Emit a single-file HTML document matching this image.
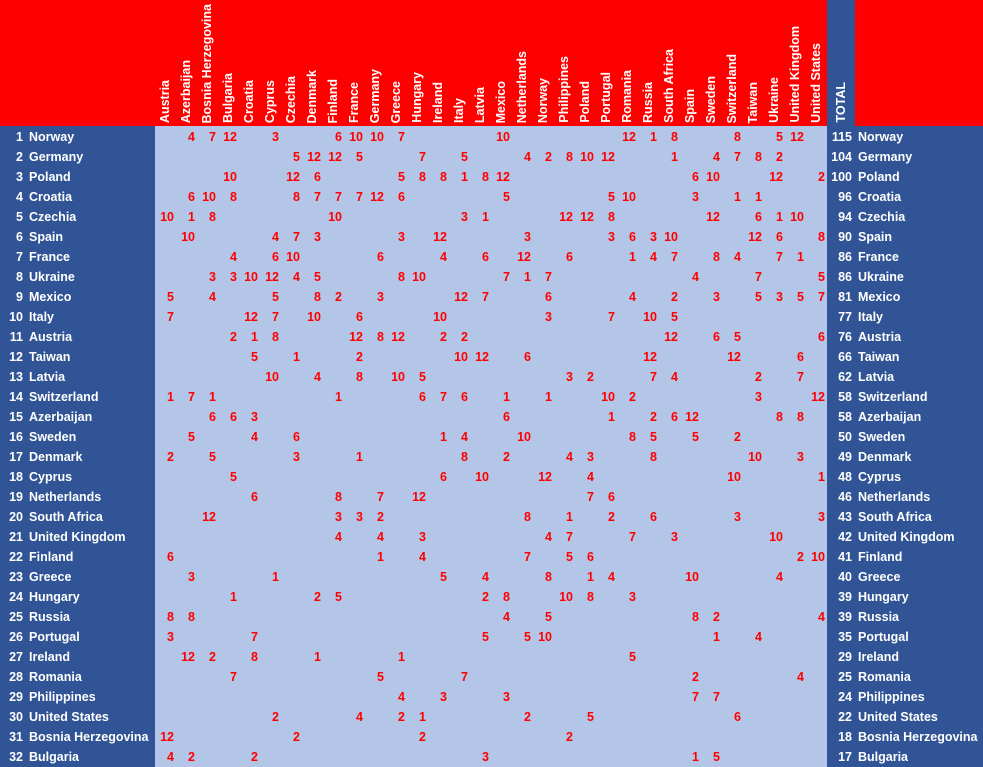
<!DOCTYPE html>
<html><head><meta charset="utf-8"><style>
*{margin:0;padding:0}
body{width:983px;height:767px;position:relative;overflow:hidden;background:#305496;font-family:"Liberation Sans",sans-serif;font-weight:bold;font-size:12.5px}
#hdr{position:absolute;left:0;top:0;width:983px;height:126px;background:#FF0000}
#grid{position:absolute;left:155px;top:126px;width:672px;height:641px;background:#B4C6E7}
#totc{position:absolute;left:827px;top:0;width:28px;height:126px;background:#305496}
.h{position:absolute;bottom:3px;writing-mode:vertical-rl;transform:rotate(180deg);color:#fff;white-space:nowrap;line-height:13px}
.r{position:absolute;left:0;width:983px;height:20px;line-height:20px}
.r span{position:absolute;color:#fff}
.n{left:0;width:23px;text-align:right}
.t{left:29px}
.tt{left:820px;width:32px;text-align:right}
.t2{left:858px}
.r b{position:absolute;width:19px;text-align:right;color:#FF0000}
.c0{left:155px}.c1{left:176px}.c2{left:197px}.c3{left:218px}.c4{left:239px}.c5{left:260px}.c6{left:281px}.c7{left:302px}.c8{left:323px}.c9{left:344px}.c10{left:365px}.c11{left:386px}.c12{left:407px}.c13{left:428px}.c14{left:449px}.c15{left:470px}.c16{left:491px}.c17{left:512px}.c18{left:533px}.c19{left:554px}.c20{left:575px}.c21{left:596px}.c22{left:617px}.c23{left:638px}.c24{left:659px}.c25{left:680px}.c26{left:701px}.c27{left:722px}.c28{left:743px}.c29{left:764px}.c30{left:785px}.c31{left:806px}
</style></head><body>
<div id="hdr">
<div id="totc"></div>
<div class="h" style="left:159px">Austria</div>
<div class="h" style="left:180px">Azerbaijan</div>
<div class="h" style="left:201px">Bosnia Herzegovina</div>
<div class="h" style="left:222px">Bulgaria</div>
<div class="h" style="left:243px">Croatia</div>
<div class="h" style="left:264px">Cyprus</div>
<div class="h" style="left:285px">Czechia</div>
<div class="h" style="left:306px">Denmark</div>
<div class="h" style="left:327px">Finland</div>
<div class="h" style="left:348px">France</div>
<div class="h" style="left:369px">Germany</div>
<div class="h" style="left:390px">Greece</div>
<div class="h" style="left:411px">Hungary</div>
<div class="h" style="left:432px">Ireland</div>
<div class="h" style="left:453px">Italy</div>
<div class="h" style="left:474px">Latvia</div>
<div class="h" style="left:495px">Mexico</div>
<div class="h" style="left:516px">Netherlands</div>
<div class="h" style="left:537px">Norway</div>
<div class="h" style="left:558px">Philippines</div>
<div class="h" style="left:579px">Poland</div>
<div class="h" style="left:600px">Portugal</div>
<div class="h" style="left:621px">Romania</div>
<div class="h" style="left:642px">Russia</div>
<div class="h" style="left:663px">South Africa</div>
<div class="h" style="left:684px">Spain</div>
<div class="h" style="left:705px">Sweden</div>
<div class="h" style="left:726px">Switzerland</div>
<div class="h" style="left:747px">Taiwan</div>
<div class="h" style="left:768px">Ukraine</div>
<div class="h" style="left:789px">United Kingdom</div>
<div class="h" style="left:810px">United States</div>
<div class="h" style="left:835px">TOTAL</div>
</div>
<div id="grid"></div>

<div class="r" style="top:127px"><span class="n">1</span><span class="t">Norway</span><b class="c1">4</b><b class="c2">7</b><b class="c3">12</b><b class="c5">3</b><b class="c8">6</b><b class="c9">10</b><b class="c10">10</b><b class="c11">7</b><b class="c16">10</b><b class="c22">12</b><b class="c23">1</b><b class="c24">8</b><b class="c27">8</b><b class="c29">5</b><b class="c30">12</b><span class="tt">115</span><span class="t2">Norway</span></div>
<div class="r" style="top:147px"><span class="n">2</span><span class="t">Germany</span><b class="c6">5</b><b class="c7">12</b><b class="c8">12</b><b class="c9">5</b><b class="c12">7</b><b class="c14">5</b><b class="c17">4</b><b class="c18">2</b><b class="c19">8</b><b class="c20">10</b><b class="c21">12</b><b class="c24">1</b><b class="c26">4</b><b class="c27">7</b><b class="c28">8</b><b class="c29">2</b><span class="tt">104</span><span class="t2">Germany</span></div>
<div class="r" style="top:167px"><span class="n">3</span><span class="t">Poland</span><b class="c3">10</b><b class="c6">12</b><b class="c7">6</b><b class="c11">5</b><b class="c12">8</b><b class="c13">8</b><b class="c14">1</b><b class="c15">8</b><b class="c16">12</b><b class="c25">6</b><b class="c26">10</b><b class="c29">12</b><b class="c31">2</b><span class="tt">100</span><span class="t2">Poland</span></div>
<div class="r" style="top:187px"><span class="n">4</span><span class="t">Croatia</span><b class="c1">6</b><b class="c2">10</b><b class="c3">8</b><b class="c6">8</b><b class="c7">7</b><b class="c8">7</b><b class="c9">7</b><b class="c10">12</b><b class="c11">6</b><b class="c16">5</b><b class="c21">5</b><b class="c22">10</b><b class="c25">3</b><b class="c27">1</b><b class="c28">1</b><span class="tt">96</span><span class="t2">Croatia</span></div>
<div class="r" style="top:207px"><span class="n">5</span><span class="t">Czechia</span><b class="c0">10</b><b class="c1">1</b><b class="c2">8</b><b class="c8">10</b><b class="c14">3</b><b class="c15">1</b><b class="c19">12</b><b class="c20">12</b><b class="c21">8</b><b class="c26">12</b><b class="c28">6</b><b class="c29">1</b><b class="c30">10</b><span class="tt">94</span><span class="t2">Czechia</span></div>
<div class="r" style="top:227px"><span class="n">6</span><span class="t">Spain</span><b class="c1">10</b><b class="c5">4</b><b class="c6">7</b><b class="c7">3</b><b class="c11">3</b><b class="c13">12</b><b class="c17">3</b><b class="c21">3</b><b class="c22">6</b><b class="c23">3</b><b class="c24">10</b><b class="c28">12</b><b class="c29">6</b><b class="c31">8</b><span class="tt">90</span><span class="t2">Spain</span></div>
<div class="r" style="top:247px"><span class="n">7</span><span class="t">France</span><b class="c3">4</b><b class="c5">6</b><b class="c6">10</b><b class="c10">6</b><b class="c13">4</b><b class="c15">6</b><b class="c17">12</b><b class="c19">6</b><b class="c22">1</b><b class="c23">4</b><b class="c24">7</b><b class="c26">8</b><b class="c27">4</b><b class="c29">7</b><b class="c30">1</b><span class="tt">86</span><span class="t2">France</span></div>
<div class="r" style="top:267px"><span class="n">8</span><span class="t">Ukraine</span><b class="c2">3</b><b class="c3">3</b><b class="c4">10</b><b class="c5">12</b><b class="c6">4</b><b class="c7">5</b><b class="c11">8</b><b class="c12">10</b><b class="c16">7</b><b class="c17">1</b><b class="c18">7</b><b class="c25">4</b><b class="c28">7</b><b class="c31">5</b><span class="tt">86</span><span class="t2">Ukraine</span></div>
<div class="r" style="top:287px"><span class="n">9</span><span class="t">Mexico</span><b class="c0">5</b><b class="c2">4</b><b class="c5">5</b><b class="c7">8</b><b class="c8">2</b><b class="c10">3</b><b class="c14">12</b><b class="c15">7</b><b class="c18">6</b><b class="c22">4</b><b class="c24">2</b><b class="c26">3</b><b class="c28">5</b><b class="c29">3</b><b class="c30">5</b><b class="c31">7</b><span class="tt">81</span><span class="t2">Mexico</span></div>
<div class="r" style="top:307px"><span class="n">10</span><span class="t">Italy</span><b class="c0">7</b><b class="c4">12</b><b class="c5">7</b><b class="c7">10</b><b class="c9">6</b><b class="c13">10</b><b class="c18">3</b><b class="c21">7</b><b class="c23">10</b><b class="c24">5</b><span class="tt">77</span><span class="t2">Italy</span></div>
<div class="r" style="top:327px"><span class="n">11</span><span class="t">Austria</span><b class="c3">2</b><b class="c4">1</b><b class="c5">8</b><b class="c9">12</b><b class="c10">8</b><b class="c11">12</b><b class="c13">2</b><b class="c14">2</b><b class="c24">12</b><b class="c26">6</b><b class="c27">5</b><b class="c31">6</b><span class="tt">76</span><span class="t2">Austria</span></div>
<div class="r" style="top:347px"><span class="n">12</span><span class="t">Taiwan</span><b class="c4">5</b><b class="c6">1</b><b class="c9">2</b><b class="c14">10</b><b class="c15">12</b><b class="c17">6</b><b class="c23">12</b><b class="c27">12</b><b class="c30">6</b><span class="tt">66</span><span class="t2">Taiwan</span></div>
<div class="r" style="top:367px"><span class="n">13</span><span class="t">Latvia</span><b class="c5">10</b><b class="c7">4</b><b class="c9">8</b><b class="c11">10</b><b class="c12">5</b><b class="c19">3</b><b class="c20">2</b><b class="c23">7</b><b class="c24">4</b><b class="c28">2</b><b class="c30">7</b><span class="tt">62</span><span class="t2">Latvia</span></div>
<div class="r" style="top:387px"><span class="n">14</span><span class="t">Switzerland</span><b class="c0">1</b><b class="c1">7</b><b class="c2">1</b><b class="c8">1</b><b class="c12">6</b><b class="c13">7</b><b class="c14">6</b><b class="c16">1</b><b class="c18">1</b><b class="c21">10</b><b class="c22">2</b><b class="c28">3</b><b class="c31">12</b><span class="tt">58</span><span class="t2">Switzerland</span></div>
<div class="r" style="top:407px"><span class="n">15</span><span class="t">Azerbaijan</span><b class="c2">6</b><b class="c3">6</b><b class="c4">3</b><b class="c16">6</b><b class="c21">1</b><b class="c23">2</b><b class="c24">6</b><b class="c25">12</b><b class="c29">8</b><b class="c30">8</b><span class="tt">58</span><span class="t2">Azerbaijan</span></div>
<div class="r" style="top:427px"><span class="n">16</span><span class="t">Sweden</span><b class="c1">5</b><b class="c4">4</b><b class="c6">6</b><b class="c13">1</b><b class="c14">4</b><b class="c17">10</b><b class="c22">8</b><b class="c23">5</b><b class="c25">5</b><b class="c27">2</b><span class="tt">50</span><span class="t2">Sweden</span></div>
<div class="r" style="top:447px"><span class="n">17</span><span class="t">Denmark</span><b class="c0">2</b><b class="c2">5</b><b class="c6">3</b><b class="c9">1</b><b class="c14">8</b><b class="c16">2</b><b class="c19">4</b><b class="c20">3</b><b class="c23">8</b><b class="c28">10</b><b class="c30">3</b><span class="tt">49</span><span class="t2">Denmark</span></div>
<div class="r" style="top:467px"><span class="n">18</span><span class="t">Cyprus</span><b class="c3">5</b><b class="c13">6</b><b class="c15">10</b><b class="c18">12</b><b class="c20">4</b><b class="c27">10</b><b class="c31">1</b><span class="tt">48</span><span class="t2">Cyprus</span></div>
<div class="r" style="top:487px"><span class="n">19</span><span class="t">Netherlands</span><b class="c4">6</b><b class="c8">8</b><b class="c10">7</b><b class="c12">12</b><b class="c20">7</b><b class="c21">6</b><span class="tt">46</span><span class="t2">Netherlands</span></div>
<div class="r" style="top:507px"><span class="n">20</span><span class="t">South Africa</span><b class="c2">12</b><b class="c8">3</b><b class="c9">3</b><b class="c10">2</b><b class="c17">8</b><b class="c19">1</b><b class="c21">2</b><b class="c23">6</b><b class="c27">3</b><b class="c31">3</b><span class="tt">43</span><span class="t2">South Africa</span></div>
<div class="r" style="top:527px"><span class="n">21</span><span class="t">United Kingdom</span><b class="c8">4</b><b class="c10">4</b><b class="c12">3</b><b class="c18">4</b><b class="c19">7</b><b class="c22">7</b><b class="c24">3</b><b class="c29">10</b><span class="tt">42</span><span class="t2">United Kingdom</span></div>
<div class="r" style="top:547px"><span class="n">22</span><span class="t">Finland</span><b class="c0">6</b><b class="c10">1</b><b class="c12">4</b><b class="c17">7</b><b class="c19">5</b><b class="c20">6</b><b class="c30">2</b><b class="c31">10</b><span class="tt">41</span><span class="t2">Finland</span></div>
<div class="r" style="top:567px"><span class="n">23</span><span class="t">Greece</span><b class="c1">3</b><b class="c5">1</b><b class="c13">5</b><b class="c15">4</b><b class="c18">8</b><b class="c20">1</b><b class="c21">4</b><b class="c25">10</b><b class="c29">4</b><span class="tt">40</span><span class="t2">Greece</span></div>
<div class="r" style="top:587px"><span class="n">24</span><span class="t">Hungary</span><b class="c3">1</b><b class="c7">2</b><b class="c8">5</b><b class="c15">2</b><b class="c16">8</b><b class="c19">10</b><b class="c20">8</b><b class="c22">3</b><span class="tt">39</span><span class="t2">Hungary</span></div>
<div class="r" style="top:607px"><span class="n">25</span><span class="t">Russia</span><b class="c0">8</b><b class="c1">8</b><b class="c16">4</b><b class="c18">5</b><b class="c25">8</b><b class="c26">2</b><b class="c31">4</b><span class="tt">39</span><span class="t2">Russia</span></div>
<div class="r" style="top:627px"><span class="n">26</span><span class="t">Portugal</span><b class="c0">3</b><b class="c4">7</b><b class="c15">5</b><b class="c17">5</b><b class="c18">10</b><b class="c26">1</b><b class="c28">4</b><span class="tt">35</span><span class="t2">Portugal</span></div>
<div class="r" style="top:647px"><span class="n">27</span><span class="t">Ireland</span><b class="c1">12</b><b class="c2">2</b><b class="c4">8</b><b class="c7">1</b><b class="c11">1</b><b class="c22">5</b><span class="tt">29</span><span class="t2">Ireland</span></div>
<div class="r" style="top:667px"><span class="n">28</span><span class="t">Romania</span><b class="c3">7</b><b class="c10">5</b><b class="c14">7</b><b class="c25">2</b><b class="c30">4</b><span class="tt">25</span><span class="t2">Romania</span></div>
<div class="r" style="top:687px"><span class="n">29</span><span class="t">Philippines</span><b class="c11">4</b><b class="c13">3</b><b class="c16">3</b><b class="c25">7</b><b class="c26">7</b><span class="tt">24</span><span class="t2">Philippines</span></div>
<div class="r" style="top:707px"><span class="n">30</span><span class="t">United States</span><b class="c5">2</b><b class="c9">4</b><b class="c11">2</b><b class="c12">1</b><b class="c17">2</b><b class="c20">5</b><b class="c27">6</b><span class="tt">22</span><span class="t2">United States</span></div>
<div class="r" style="top:727px"><span class="n">31</span><span class="t">Bosnia Herzegovina</span><b class="c0">12</b><b class="c6">2</b><b class="c12">2</b><b class="c19">2</b><span class="tt">18</span><span class="t2">Bosnia Herzegovina</span></div>
<div class="r" style="top:747px"><span class="n">32</span><span class="t">Bulgaria</span><b class="c0">4</b><b class="c1">2</b><b class="c4">2</b><b class="c15">3</b><b class="c25">1</b><b class="c26">5</b><span class="tt">17</span><span class="t2">Bulgaria</span></div>
</body></html>
